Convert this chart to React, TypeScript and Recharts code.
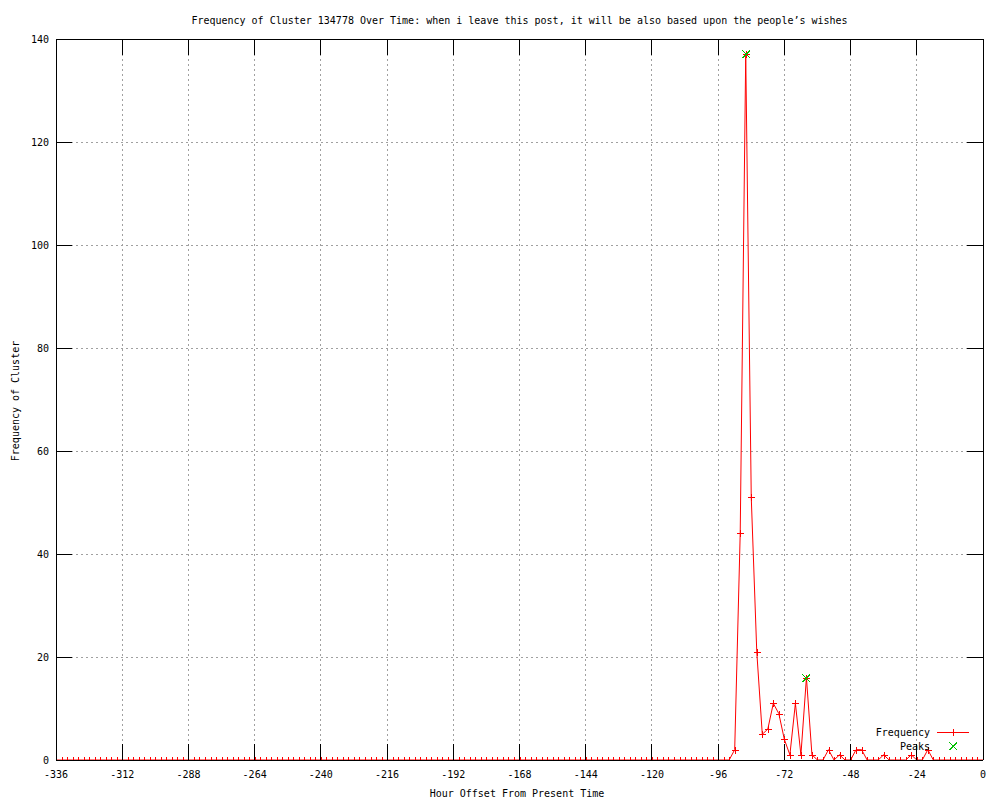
import React from 'react';
import { ComposedChart, Line, XAxis, YAxis, CartesianGrid } from 'recharts';

const hours = [
  -336, -334, -332, -330, -328, -326, -324, -322, -320, -318, -316, -314,
  -312, -310, -308, -306, -304, -302, -300, -298, -296, -294, -292, -290,
  -288, -286, -284, -282, -280, -278, -276, -274, -272, -270, -268, -266,
  -264, -262, -260, -258, -256, -254, -252, -250, -248, -246, -244, -242,
  -240, -238, -236, -234, -232, -230, -228, -226, -224, -222, -220, -218,
  -216, -214, -212, -210, -208, -206, -204, -202, -200, -198, -196, -194,
  -192, -190, -188, -186, -184, -182, -180, -178, -176, -174, -172, -170,
  -168, -166, -164, -162, -160, -158, -156, -154, -152, -150, -148, -146,
  -144, -142, -140, -138, -136, -134, -132, -130, -128, -126, -124, -122,
  -120, -118, -116, -114, -112, -110, -108, -106, -104, -102, -100, -98,
  -96, -94, -92, -90, -88, -86, -84, -82, -80, -78, -76, -74,
  -72, -70, -68, -66, -64, -62, -60, -58, -56, -54, -52, -50,
  -48, -46, -44, -42, -40, -38, -36, -34, -32, -30, -28, -26,
  -24, -22, -20, -18, -16, -14, -12, -10, -8, -6, -4, -2,
  0,
];

const frequency = [
  0, 0, 0, 0, 0, 0, 0, 0, 0, 0, 0, 0,
  0, 0, 0, 0, 0, 0, 0, 0, 0, 0, 0, 0,
  0, 0, 0, 0, 0, 0, 0, 0, 0, 0, 0, 0,
  0, 0, 0, 0, 0, 0, 0, 0, 0, 0, 0, 0,
  0, 0, 0, 0, 0, 0, 0, 0, 0, 0, 0, 0,
  0, 0, 0, 0, 0, 0, 0, 0, 0, 0, 0, 0,
  0, 0, 0, 0, 0, 0, 0, 0, 0, 0, 0, 0,
  0, 0, 0, 0, 0, 0, 0, 0, 0, 0, 0, 0,
  0, 0, 0, 0, 0, 0, 0, 0, 0, 0, 0, 0,
  0, 0, 0, 0, 0, 0, 0, 0, 0, 0, 0, 0,
  0, 0, 0, 2, 44, 137, 51, 21, 5, 6, 11, 9,
  4, 1, 11, 1, 16, 1, 0, 0, 2, 0, 1, 0,
  0, 2, 2, 0, 0, 0, 1, 0, 0, 0, 0, 1,
  0, 0, 2, 0, 0, 0, 0, 0, 0, 0, 0, 0,
  0,
];

const peakHours = [-86, -64];
const peakValues = [137, 16];

const xTicks = [-336, -312, -288, -264, -240, -216, -192, -168, -144, -120, -96, -72, -48, -24, 0];
const yTicks = [0, 20, 40, 60, 80, 100, 120, 140];

const titleText =
  "Frequency of Cluster 134778 Over Time: when i leave this post, it will be also based upon the people\u2019s wishes";
const xLabelText = 'Hour Offset From Present Time';
const yLabelText = 'Frequency of Cluster';
const seriesNames = ['Frequency', 'Peaks'];

const freqData = hours.map((h, i) => ({ hour: h, freq: frequency[i] }));
const peakData = peakHours.map((h, i) => ({ hour: h, peak: peakValues[i] }));

const FONT = "'DejaVu Sans Mono', 'Liberation Mono', monospace";
const RED = '#ff0000';
const GREEN = '#00c000';
const TICK_LEN = 16;

const snap = (v: number) => Math.round(v) + 0.5;

const PlusDot = (props: any) => {
  const { cx, cy, index } = props;
  if (cx == null || cy == null) return <g key={`p${index}`} />;
  const x = snap(cx);
  const y = snap(cy);
  return (
    <path
      key={`p${index}`}
      d={`M${x - 3.5},${y}H${x + 3.5}M${x},${y - 3.5}V${y + 3.5}`}
      stroke={RED}
      strokeWidth={1}
      fill="none"
      shapeRendering="crispEdges"
    />
  );
};

const CrossDot = (props: any) => {
  const { cx, cy, index } = props;
  if (cx == null || cy == null) return <g key={`c${index}`} />;
  const x = Math.round(cx);
  const y = Math.round(cy);
  return (
    <path
      key={`c${index}`}
      d={`M${x - 3.5},${y - 3.5}L${x + 4},${y + 4}M${x - 3.5},${y + 4}L${x + 4},${y - 3.5}`}
      stroke={GREEN}
      strokeWidth={1.2}
      fill="none"
      shapeRendering="crispEdges"
    />
  );
};

const BottomTick = (props: any) => {
  const { x, y, payload } = props;
  return (
    <g>
      <line x1={x} x2={x} y1={y} y2={y - TICK_LEN} stroke="#000" strokeWidth={1} shapeRendering="crispEdges" />
      <text x={x} y={y + 17.5} textAnchor="middle" fontFamily={FONT} fontSize={10} fill="#000">
        {payload.value}
      </text>
    </g>
  );
};

const TopTick = (props: any) => {
  const { x, y } = props;
  return <line x1={x} x2={x} y1={y} y2={y + TICK_LEN} stroke="#000" strokeWidth={1} shapeRendering="crispEdges" />;
};

const LeftTick = (props: any) => {
  const { x, y, payload } = props;
  return (
    <g>
      <line x1={x} x2={x + TICK_LEN} y1={y} y2={y} stroke="#000" strokeWidth={1} shapeRendering="crispEdges" />
      <text x={x - 7} y={y + 3.7} textAnchor="end" fontFamily={FONT} fontSize={10} fill="#000">
        {payload.value}
      </text>
    </g>
  );
};

const RightTick = (props: any) => {
  const { x, y } = props;
  return <line x1={x} x2={x - TICK_LEN} y1={y} y2={y} stroke="#000" strokeWidth={1} shapeRendering="crispEdges" />;
};

export default function App() {
  return (
    <div style={{ position: 'fixed', left: 0, top: 0, width: 1000, height: 800, background: '#fff' }}>
      <ComposedChart width={1000} height={800} margin={{ top: 9, right: 0, bottom: 0, left: 0 }}>
        <CartesianGrid
          xAxisId="b"
          yAxisId="l"
          stroke="#a0a0a0"
          strokeDasharray="2 3"
          shapeRendering="crispEdges"
        />
        <XAxis
          xAxisId="b"
          dataKey="hour"
          type="number"
          orientation="bottom"
          domain={[-336, 0]}
          ticks={xTicks}
          interval={0}
          height={40}
          tickSize={0}
          tickMargin={0}
          tickLine={false}
          axisLine={{ stroke: '#000', shapeRendering: 'crispEdges' }}
          tick={<BottomTick />}
          allowDataOverflow
        />
        <XAxis
          xAxisId="t"
          dataKey="hour"
          type="number"
          orientation="top"
          domain={[-336, 0]}
          ticks={xTicks}
          interval={0}
          height={30}
          tickSize={0}
          tickMargin={0}
          tickLine={false}
          axisLine={{ stroke: '#000', shapeRendering: 'crispEdges' }}
          tick={<TopTick />}
          allowDataOverflow
        />
        <YAxis
          yAxisId="l"
          type="number"
          orientation="left"
          domain={[0, 140]}
          ticks={yTicks}
          interval={0}
          width={56}
          tickSize={0}
          tickMargin={0}
          tickLine={false}
          axisLine={{ stroke: '#000', shapeRendering: 'crispEdges' }}
          tick={<LeftTick />}
          allowDataOverflow
        />
        <YAxis
          yAxisId="r"
          type="number"
          orientation="right"
          domain={[0, 140]}
          ticks={yTicks}
          interval={0}
          width={17}
          tickSize={0}
          tickMargin={0}
          tickLine={false}
          axisLine={{ stroke: '#000', shapeRendering: 'crispEdges' }}
          tick={<RightTick />}
          allowDataOverflow
        />
        <Line
          xAxisId="b"
          yAxisId="l"
          data={freqData}
          dataKey="freq"
          name={seriesNames[0]}
          type="linear"
          stroke={RED}
          strokeWidth={1}
          dot={<PlusDot />}
          activeDot={false}
          isAnimationActive={false}
        />
        <Line
          xAxisId="b"
          yAxisId="l"
          data={peakData}
          dataKey="peak"
          name={seriesNames[1]}
          type="linear"
          stroke="none"
          dot={<CrossDot />}
          activeDot={false}
          isAnimationActive={false}
        />
      </ComposedChart>
      <svg
        width={1000}
        height={800}
        style={{ position: 'absolute', left: 0, top: 0, pointerEvents: 'none' }}
      >
        <text x={519.5} y={23.5} textAnchor="middle" fontFamily={FONT} fontSize={10} fill="#000">
          {titleText}
        </text>
        <text x={517} y={797} textAnchor="middle" fontFamily={FONT} fontSize={10} fill="#000">
          {xLabelText}
        </text>
        <text
          transform="translate(19,401) rotate(-90)"
          x={0}
          y={0}
          textAnchor="middle"
          fontFamily={FONT}
          fontSize={10}
          fill="#000"
        >
          {yLabelText}
        </text>
        <text x={930} y={736} textAnchor="end" fontFamily={FONT} fontSize={10} fill="#000">
          {seriesNames[0]}
        </text>
        <line x1={937} x2={969} y1={732.5} y2={732.5} stroke={RED} strokeWidth={1} shapeRendering="crispEdges" />
        <path d="M949.5,732.5H956.5M953.5,729V736" stroke={RED} strokeWidth={1} fill="none" shapeRendering="crispEdges" />
        <text x={930} y={749.5} textAnchor="end" fontFamily={FONT} fontSize={10} fill="#000">
          {seriesNames[1]}
        </text>
        <path
          d="M949.5,742.5L957,750M949.5,750L957,742.5"
          stroke={GREEN}
          strokeWidth={1.2}
          fill="none"
          shapeRendering="crispEdges"
        />
      </svg>
    </div>
  );
}
